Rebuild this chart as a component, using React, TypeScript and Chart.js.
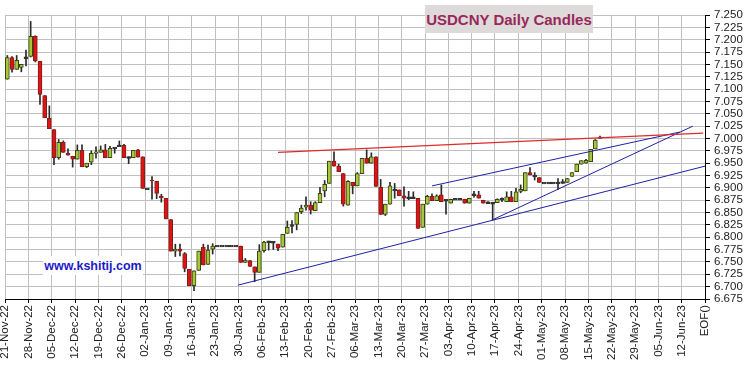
import React, { useEffect, useRef } from "react";
import { Chart, registerables } from "chart.js";

Chart.register(...registerables);

// Week tick labels (every 5 trading days), last one is the chart end marker
const weekLabels = [
  "21-Nov-22", "28-Nov-22", "05-Dec-22", "12-Dec-22", "19-Dec-22", "26-Dec-22",
  "02-Jan-23", "09-Jan-23", "16-Jan-23", "23-Jan-23", "30-Jan-23", "06-Feb-23",
  "13-Feb-23", "20-Feb-23", "27-Feb-23", "06-Mar-23", "13-Mar-23", "20-Mar-23",
  "27-Mar-23", "03-Apr-23", "10-Apr-23", "17-Apr-23", "24-Apr-23", "01-May-23",
  "08-May-23", "15-May-23", "22-May-23", "29-May-23", "05-Jun-23", "12-Jun-23",
  "EOF()",
];

// Daily OHLC, one entry per weekday starting 21-Nov-22
const openP = [
  7.120, 7.164, 7.140, 7.144, 7.163, 7.166, 7.207, 7.156, 7.087, 7.041,
  7.018, 6.961, 6.992, 6.970, 6.964, 6.958, 6.976, 6.943, 6.952, 6.970,
  6.972, 6.977, 6.961, 6.981, 6.984, 6.986, 6.962, 6.961, 6.977, 6.963,
  6.898, 6.916, 6.913, 6.883, 6.879, 6.836, 6.772, 6.776, 6.767, 6.735,
  6.702, 6.733, 6.780, 6.745, 6.776, 6.782, 6.782, 6.782, 6.782, 6.782,
  6.782, 6.749, 6.753, 6.740, 6.729, 6.773, 6.791, 6.790, 6.786, 6.780,
  6.808, 6.824, 6.826, 6.852, 6.861, 6.865, 6.854, 6.870, 6.894, 6.909,
  6.954, 6.944, 6.929, 6.865, 6.911, 6.904, 6.929, 6.960, 6.950, 6.963,
  6.901, 6.846, 6.867, 6.896, 6.896, 6.884, 6.880, 6.880, 6.879, 6.820,
  6.867, 6.883, 6.874, 6.886, 6.875, 6.869, 6.877, 6.877, 6.877, 6.869,
  6.886, 6.886, 6.875, 6.870, 6.869, 6.870, 6.877, 6.872, 6.882, 6.872,
  6.893, 6.894, 6.931, 6.924, 6.921, 6.910, 6.910, 6.910, 6.910, 6.910,
  6.911, 6.923, 6.933, 6.948, 6.950, 6.953, 6.979, 7.000,
];
const highP = [
  7.168, 7.166, 7.168, 7.150, 7.179, 7.237, 7.208, 7.156, 7.087, 7.066,
  7.018, 6.998, 6.995, 6.979, 6.964, 6.987, 6.987, 6.950, 6.975, 6.983,
  6.985, 6.988, 6.984, 6.981, 6.995, 6.988, 6.963, 6.976, 6.978, 6.963,
  6.898, 6.923, 6.913, 6.887, 6.879, 6.836, 6.786, 6.786, 6.769, 6.735,
  6.732, 6.772, 6.786, 6.784, 6.787, 6.782, 6.782, 6.782, 6.782, 6.782,
  6.782, 6.757, 6.753, 6.740, 6.785, 6.792, 6.792, 6.791, 6.786, 6.806,
  6.833, 6.834, 6.850, 6.865, 6.882, 6.872, 6.872, 6.901, 6.915, 6.954,
  6.973, 6.948, 6.929, 6.915, 6.911, 6.931, 6.960, 6.977, 6.971, 6.963,
  6.917, 6.867, 6.911, 6.909, 6.896, 6.902, 6.893, 6.892, 6.879, 6.867,
  6.885, 6.888, 6.886, 6.906, 6.875, 6.877, 6.877, 6.877, 6.877, 6.879,
  6.893, 6.893, 6.875, 6.872, 6.871, 6.878, 6.880, 6.892, 6.893, 6.899,
  6.906, 6.931, 6.941, 6.931, 6.921, 6.910, 6.910, 6.910, 6.919, 6.917,
  6.919, 6.931, 6.948, 6.955, 6.958, 6.978, 6.998, 7.005,
];
const lowP = [
  7.120, 7.134, 7.140, 7.135, 7.147, 7.165, 7.155, 7.069, 7.042, 7.020,
  6.947, 6.958, 6.972, 6.966, 6.942, 6.958, 6.943, 6.941, 6.947, 6.960,
  6.972, 6.961, 6.961, 6.970, 6.984, 6.961, 6.949, 6.961, 6.962, 6.899,
  6.898, 6.877, 6.878, 6.871, 6.837, 6.772, 6.761, 6.762, 6.730, 6.702,
  6.692, 6.733, 6.744, 6.745, 6.766, 6.782, 6.782, 6.782, 6.782, 6.782,
  6.749, 6.749, 6.741, 6.710, 6.729, 6.770, 6.774, 6.775, 6.773, 6.780,
  6.808, 6.809, 6.815, 6.848, 6.855, 6.847, 6.854, 6.870, 6.882, 6.909,
  6.944, 6.933, 6.863, 6.865, 6.888, 6.904, 6.929, 6.950, 6.950, 6.903,
  6.846, 6.844, 6.867, 6.879, 6.884, 6.863, 6.876, 6.880, 6.818, 6.820,
  6.867, 6.874, 6.874, 6.872, 6.847, 6.869, 6.877, 6.877, 6.869, 6.869,
  6.881, 6.879, 6.869, 6.868, 6.835, 6.870, 6.872, 6.872, 6.872, 6.872,
  6.890, 6.894, 6.926, 6.916, 6.911, 6.910, 6.910, 6.910, 6.897, 6.909,
  6.911, 6.923, 6.933, 6.948, 6.950, 6.953, 6.979, 7.000,
];
const closeP = [
  7.164, 7.140, 7.158, 7.150, 7.164, 7.207, 7.157, 7.089, 7.042, 7.020,
  6.961, 6.992, 6.972, 6.966, 6.958, 6.976, 6.943, 6.950, 6.970, 6.973,
  6.977, 6.961, 6.980, 6.981, 6.986, 6.961, 6.961, 6.976, 6.962, 6.899,
  6.898, 6.914, 6.889, 6.880, 6.837, 6.772, 6.776, 6.772, 6.737, 6.702,
  6.732, 6.772, 6.744, 6.774, 6.782, 6.782, 6.782, 6.782, 6.782, 6.782,
  6.749, 6.754, 6.741, 6.729, 6.772, 6.790, 6.791, 6.790, 6.778, 6.806,
  6.820, 6.824, 6.850, 6.859, 6.865, 6.855, 6.870, 6.889, 6.907, 6.954,
  6.944, 6.933, 6.867, 6.913, 6.904, 6.929, 6.960, 6.950, 6.963, 6.903,
  6.846, 6.867, 6.904, 6.896, 6.884, 6.879, 6.880, 6.880, 6.818, 6.867,
  6.883, 6.874, 6.884, 6.872, 6.875, 6.877, 6.877, 6.877, 6.869, 6.879,
  6.886, 6.879, 6.869, 6.870, 6.869, 6.877, 6.877, 6.882, 6.872, 6.892,
  6.897, 6.931, 6.926, 6.924, 6.911, 6.910, 6.910, 6.910, 6.910, 6.912,
  6.919, 6.931, 6.948, 6.955, 6.956, 6.978, 6.997, 7.003,
];

// Trend lines: [dayIndex, price] endpoints
const redTrend = [[58.5, 6.972], [149.6, 7.011]];
const blueTrendLong = [[49.9, 6.703], [150, 6.944]];
const blueTrendUpper = [[91.5, 6.904], [144.6, 7.013]];
const blueTrendSteep = [[104.4, 6.835], [147.4, 7.025]];

const FONT = "'Liberation Sans', Arial, sans-serif";
const GREEN = "#a8c83a";
const GREEN_EDGE = "#3a4514";
const RED = "#dd1414";
const RED_EDGE = "#861c1c";
const DOJI = "#333333";

export default function App() {
  const ref = useRef<HTMLCanvasElement | null>(null);

  useEffect(() => {
    if (!ref.current) return;
    const bodies = openP.map((o, i) => {
      const c = closeP[i];
      let lo = Math.min(o, c);
      let hi = Math.max(o, c);
      if (hi - lo < 0.002) {
        const m = (o + c) / 2;
        lo = m - 0.0018;
        hi = m + 0.0018;
      }
      return { x: i + 0.5, y: [lo, hi] };
    });
    const kind = openP.map((o, i) =>
      closeP[i] - o >= 0.002 ? "up" : o - closeP[i] >= 0.002 ? "down" : "flat"
    );
    const wicks = openP.map((_, i) => ({ x: i + 0.5, y: [lowP[i], highP[i]] }));
    const toLine = (arr: number[][]) => arr.map(([x, y]) => ({ x, y }));
    const lineDs = (arr: number[][], color: string, w: number) => ({
      type: "line" as const,
      data: toLine(arr),
      borderColor: color,
      borderWidth: w,
      pointRadius: 0,
      fill: false,
      order: 0,
      tension: 0,
    });

    const chart = new Chart(ref.current, {
      type: "bar",
      data: {
        datasets: [
          {
            type: "bar",
            data: bodies as any,
            backgroundColor: kind.map((k) => (k === "up" ? GREEN : k === "down" ? RED : DOJI)),
            borderColor: kind.map((k) => (k === "up" ? GREEN_EDGE : k === "down" ? RED_EDGE : DOJI)),
            borderWidth: 1,
            borderSkipped: false,
            barThickness: 4,
            grouped: false,
            order: 1,
          } as any,
          {
            type: "bar",
            data: wicks as any,
            backgroundColor: "#2a2a2a",
            borderWidth: 0,
            barThickness: 1,
            grouped: false,
            order: 2,
          } as any,
          lineDs(redTrend, "#e02a2a", 1.3) as any,
          lineDs(blueTrendLong, "#2020a8", 1) as any,
          lineDs(blueTrendUpper, "#2020a8", 1) as any,
          lineDs(blueTrendSteep, "#2020a8", 1) as any,
        ],
      },
      options: {
        animation: false,
        responsive: false,
        events: [],
        plugins: { legend: { display: false }, tooltip: { enabled: false } },
        layout: { padding: { left: 5, top: 15, right: 0, bottom: 0 } },
        scales: {
          x: {
            type: "linear",
            min: 0,
            max: 150,
            offset: false,
            grid: { offset: false, color: "#c0c0c0", tickColor: "#000", tickLength: 4, lineWidth: 1 },
            border: { color: "#000" },
            ticks: {
              stepSize: 5,
              autoSkip: false,
              maxRotation: 90,
              minRotation: 90,
              padding: 2,
              color: "#222",
              font: { family: FONT, size: 11.5 },
              callback: (v: any) => weekLabels[Math.round(Number(v) / 5)] ?? "",
            },
            afterFit: (s: any) => {
              s.height = 67;
              s.paddingLeft = 0;
              s.paddingRight = 0;
            },
          },
          y: {
            type: "linear",
            position: "right",
            min: 6.675,
            max: 7.25,
            grid: { color: "#c0c0c0", tickColor: "#000", tickLength: 5, lineWidth: 1 },
            border: { color: "#000" },
            ticks: {
              stepSize: 0.025,
              autoSkip: false,
              padding: 4,
              color: "#222",
              font: { family: FONT, size: 11.5 },
              callback: (v: any) => Number(v).toFixed(3),
            },
            afterFit: (s: any) => {
              s.width = 45;
              s.paddingTop = 0;
              s.paddingBottom = 0;
            },
          },
        },
      } as any,
    });
    return () => chart.destroy();
  }, []);

  return (
    <div style={{ position: "absolute", left: 0, top: 0, width: 750, height: 366, background: "#fff" }}>
      <canvas ref={ref} width={750} height={366} style={{ display: "block" }} />
      <div
        style={{
          position: "absolute",
          left: 425,
          top: 5,
          width: 168,
          height: 28,
          background: "#dedada",
          display: "flex",
          alignItems: "center",
          justifyContent: "center",
          fontFamily: FONT,
          fontWeight: "bold",
          fontSize: 15,
          color: "#98285a",
          whiteSpace: "nowrap",
        }}
      >
        USDCNY Daily Candles
      </div>
      <div
        style={{
          position: "absolute",
          left: 43,
          top: 256,
          width: 100,
          height: 19,
          background: "#fff",
          display: "flex",
          alignItems: "center",
          justifyContent: "center",
          fontFamily: FONT,
          fontWeight: "bold",
          fontSize: 12.5,
          color: "#1c1cc8",
          whiteSpace: "nowrap",
        }}
      >
        www.kshitij.com
      </div>
    </div>
  );
}
